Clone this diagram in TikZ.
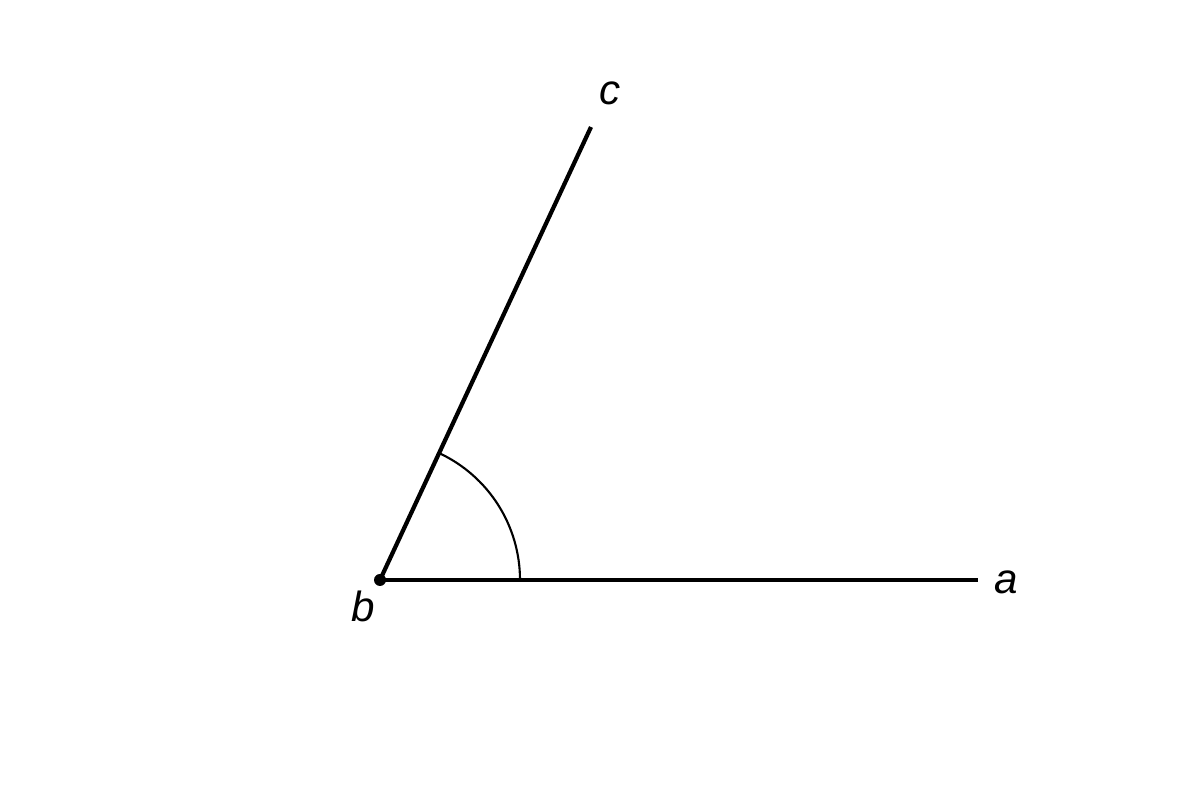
\documentclass[tikz,border=0pt]{standalone}
\usepackage{fontspec}
\setmainfont{Liberation Sans}
\begin{document}
\begin{tikzpicture}[
  ray/.style={line width=1.2pt},
  lbl/.style={font=\fontsize{12}{14}\selectfont\itshape, inner sep=0pt}
]
\useasboundingbox (0,0) rectangle (12,8);
\coordinate (b) at (3.80,2.20);
\coordinate (a) at (9.78,2.20);
\coordinate (c) at (5.91,6.73);
\draw[ray] (b) -- (a);
\draw[ray] (b) -- (c);
\draw[line width=0.6pt] ([shift={(0:1.4)}]b) arc[start angle=0, end angle=65, radius=1.4];
\fill (b) circle (0.06);
\node[lbl] (la) at (10.06,2.18) {a};
\node[lbl] (lb) at (3.63,1.94) {b};
\node[lbl] (lc) at (6.10,7.07) {c};
\end{tikzpicture}
\end{document}
